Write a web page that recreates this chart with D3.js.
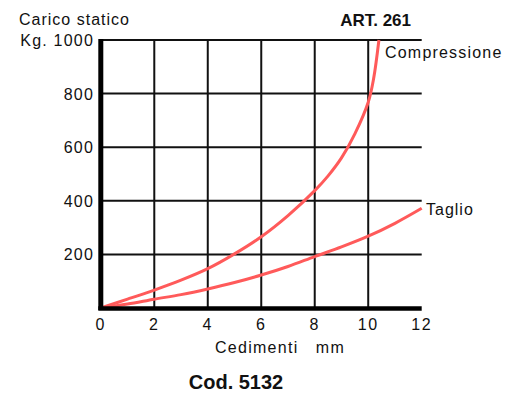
<!DOCTYPE html>
<html>
<head>
<meta charset="utf-8">
<script src="https://cdn.jsdelivr.net/npm/d3@7"></script>
<style>
  body { margin: 0; background: #fff; }
  svg text { font-family: "Liberation Sans", Arial, sans-serif; fill: #111; }
</style>
</head>
<body>
<div id="chart"></div>
<script>
// data
var xTicks = [0, 2, 4, 6, 8, 10, 12];
var yTicks = [200, 400, 600, 800, 1000];
var yTickLabels = ["200", "400", "600", "800", "Kg. 1000"];

var compX = [0, 1, 2, 3, 4, 5, 6, 7, 8, 8.5, 9, 9.5, 10, 10.2, 10.4];
var compY = [0, 33, 67, 104, 147, 202, 266, 345, 438, 493, 560, 650, 768, 855, 1000];

var taglioX = [0, 1, 2, 3, 4, 5, 6, 7, 8, 9, 10, 11, 12];
var taglioY = [0, 15, 33, 50, 71, 95, 123, 155, 192, 228, 268, 316, 372];

var width = 524, height = 397;

var svg = d3.select("#chart")
  .append("svg")
  .attr("width", width)
  .attr("height", height);

var x = d3.scaleLinear().domain([0, 12]).range([100.8, 421.7]);
var y = d3.scaleLinear().domain([0, 1000]).range([308, 40]);

// grid: horizontal
svg.append("g")
  .selectAll("line")
  .data(yTicks)
  .enter()
  .append("line")
  .attr("x1", x(0))
  .attr("x2", x(12))
  .attr("y1", function (d) { return y(d); })
  .attr("y2", function (d) { return y(d); })
  .attr("stroke", "#111")
  .attr("stroke-width", 2);

// grid: vertical (no line at 12)
svg.append("g")
  .selectAll("line")
  .data(xTicks.filter(function (d) { return d > 0 && d < 12; }))
  .enter()
  .append("line")
  .attr("x1", function (d) { return x(d); })
  .attr("x2", function (d) { return x(d); })
  .attr("y1", y(1000))
  .attr("y2", y(0))
  .attr("stroke", "#111")
  .attr("stroke-width", 2);

// curves
var line = d3.line()
  .x(function (d) { return x(d[0]); })
  .y(function (d) { return y(d[1]); })
  .curve(d3.curveCatmullRom.alpha(0.5));

svg.append("path")
  .datum(d3.zip(taglioX, taglioY))
  .attr("d", line)
  .attr("fill", "none")
  .attr("stroke", "#ff5a5a")
  .attr("stroke-width", 3);

svg.append("path")
  .datum(d3.zip(compX, compY))
  .attr("d", line)
  .attr("fill", "none")
  .attr("stroke", "#ff5a5a")
  .attr("stroke-width", 3);

// thick axes
svg.append("line")
  .attr("x1", x(0)).attr("x2", x(0))
  .attr("y1", y(1000) - 1).attr("y2", y(0) + 2)
  .attr("stroke", "#000").attr("stroke-width", 5);
svg.append("line")
  .attr("x1", x(0) - 2.5).attr("x2", x(12))
  .attr("y1", y(0) + 0.5).attr("y2", y(0) + 0.5)
  .attr("stroke", "#000").attr("stroke-width", 4.5);

// tick labels
svg.append("g")
  .selectAll("text")
  .data(xTicks)
  .enter()
  .append("text")
  .attr("x", function (d) { return x(d); })
  .attr("y", 330)
  .attr("text-anchor", "middle")
  .style("font-size", "16px")
  .style("letter-spacing", "1.5px")
  .text(function (d) { return d; });

svg.append("g")
  .selectAll("text")
  .data(yTicks)
  .enter()
  .append("text")
  .attr("x", 94)
  .attr("y", function (d) { return y(d) + 6; })
  .attr("text-anchor", "end")
  .style("font-size", "16px")
  .style("letter-spacing", "1.2px")
  .text(function (d, i) { return yTickLabels[i]; });

// titles
svg.append("text")
  .attr("x", 19).attr("y", 25)
  .style("font-size", "16px")
  .style("letter-spacing", "1px")
  .text("Carico statico");

svg.append("text")
  .attr("x", 411).attr("y", 26)
  .attr("text-anchor", "end")
  .style("font-size", "17px")
  .style("font-weight", "bold")
  .text("ART. 261");

svg.append("text")
  .attr("x", 280).attr("y", 353)
  .attr("text-anchor", "middle")
  .style("font-size", "16px")
  .style("letter-spacing", "1.3px")
  .style("white-space", "pre")
  .text("Cedimenti   mm");

// series labels
svg.append("text")
  .attr("x", 385).attr("y", 58)
  .style("font-size", "16px")
  .style("letter-spacing", "1.2px")
  .text("Compressione");

svg.append("text")
  .attr("x", 426).attr("y", 215)
  .style("font-size", "16px")
  .style("letter-spacing", "1px")
  .text("Taglio");

svg.append("text")
  .attr("x", 236).attr("y", 389)
  .attr("text-anchor", "middle")
  .style("font-size", "20px")
  .style("font-weight", "bold")
  .text("Cod. 5132");
</script>
</body>
</html>
